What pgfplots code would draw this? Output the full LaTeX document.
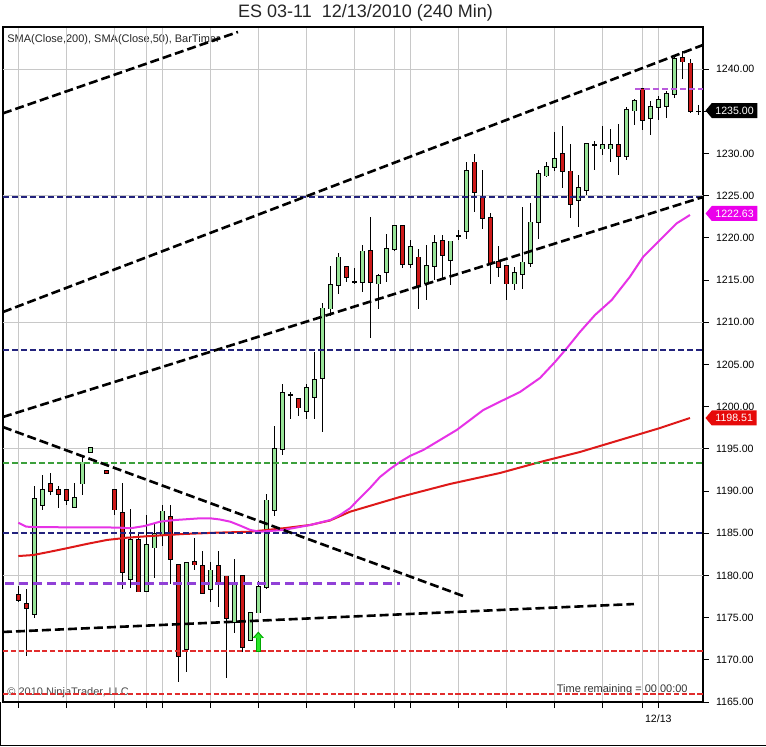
\documentclass[border=0pt]{standalone}
\usepackage{fontspec}
\setmainfont{Liberation Sans}
\usepackage{pgfplots}
\pgfplotsset{compat=1.18}
\usepackage{pgfplotstable}
\usetikzlibrary{shapes.symbols, arrows.meta}

\definecolor{upc}{RGB}{152,228,152}
\definecolor{dnc}{RGB}{205,25,25}
\definecolor{smaA}{RGB}{230,50,230}
\definecolor{smaB}{RGB}{222,25,25}
\definecolor{navyc}{RGB}{35,35,125}
\definecolor{dgreen}{RGB}{60,160,60}
\definecolor{dred}{RGB}{225,45,45}
\definecolor{violetc}{RGB}{145,65,215}
\definecolor{orchidc}{RGB}{185,90,220}
\definecolor{gridc}{RGB}{200,200,200}
\definecolor{tagmag}{RGB}{235,0,235}
\definecolor{tagred}{RGB}{230,10,10}

% up (green) candles and dojis: index, open, high, low, close
\pgfplotstableread{
x o h l c
2 1175.4 1190.6 1175.0 1189.1
3 1188.3 1191.9 1187.8 1190.1
7 1188.1 1191.0 1188.0 1189.2
8 1190.9 1194.2 1189.5 1193.4
9 1194.6 1195.1 1194.6 1195.1
14 1179.6 1187.9 1178.5 1184.2
16 1178.1 1187.2 1178.1 1183.6
17 1183.3 1186.1 1179.7 1184.9
18 1184.8 1188.4 1183.5 1187.6
21 1171.3 1181.6 1168.6 1181.5
24 1178.4 1181.6 1176.8 1180.6
27 1174.5 1182.0 1173.2 1179.1
29 1172.3 1175.7 1172.2 1175.6
30 1175.6 1179.3 1175.5 1178.6
31 1178.6 1189.7 1178.4 1188.9
32 1187.8 1197.7 1187.0 1195.0
33 1195.0 1202.7 1194.3 1201.6
34 1201.4 1201.7 1198.6 1201.4
36 1199.5 1202.7 1198.5 1202.2
37 1201.1 1206.5 1198.5 1203.2
38 1203.4 1212.3 1197.0 1211.65
39 1211.65 1216.7 1210.7 1214.4
40 1214.4 1218.2 1213.4 1217.7
42 1214.8 1216.4 1214.6 1214.8
43 1214.8 1219.2 1213.6 1218.4
45 1214.6 1215.8 1211.65 1215.5
46 1216.0 1220.5 1214.8 1218.7
47 1218.7 1221.4 1218.4 1221.4
49 1216.9 1219.8 1216.4 1218.9
51 1214.6 1219.2 1212.6 1216.7
52 1216.7 1220.3 1215.0 1219.4
54 1217.4 1219.7 1214.4 1219.6
55 1220.2 1220.9 1219.8 1220.2
56 1220.85 1229.0 1219.9 1227.9
62 1214.6 1216.6 1213.8 1215.9
63 1215.7 1223.7 1214.0 1217.1
64 1217.05 1224.2 1216.6 1221.85
65 1221.85 1228.05 1219.9 1227.6
66 1227.4 1229.0 1227.2 1228.4
67 1228.4 1232.6 1227.9 1229.4
70 1224.5 1227.45 1221.3 1225.9
71 1225.7 1231.3 1225.1 1231.1
72 1231.0 1231.5 1228.1 1231.0
73 1230.6 1233.3 1229.8 1231.0
74 1230.6 1232.9 1229.0 1231.0
76 1229.7 1235.5 1229.2 1235.2
77 1235.1 1236.5 1233.4 1236.2
79 1234.2 1236.2 1232.2 1235.5
80 1235.5 1236.8 1234.05 1236.4
81 1235.6 1237.4 1234.2 1237.1
82 1237.1 1241.5 1236.6 1241.2
85 1235.0 1235.8 1234.6 1235.0
}\upbars

% down (red) candles
\pgfplotstableread{
x o h l c
0 1177.7 1178.7 1176.9 1177.1
1 1176.6 1178.4 1170.5 1176.1
4 1190.9 1192.1 1189.5 1190.05
5 1190.1 1190.6 1188.0 1189.6
6 1190.1 1190.3 1188.3 1188.9
11 1192.4 1192.4 1192.1 1192.1
12 1190.1 1190.3 1187.2 1187.8
13 1187.4 1190.9 1178.4 1180.4
15 1184.2 1185.2 1178.1 1178.1
19 1186.9 1188.4 1179.0 1181.9
20 1181.3 1181.4 1167.4 1170.5
22 1181.6 1184.5 1180.6 1181.3
23 1181.1 1182.9 1177.8 1177.9
25 1181.1 1182.9 1176.3 1179.0
26 1179.9 1180.0 1167.8 1175.0
28 1179.9 1180.0 1170.9 1171.55
35 1200.9 1201.0 1198.9 1199.9
41 1216.6 1216.7 1214.8 1215.4
44 1218.45 1222.5 1208.1 1214.8
48 1221.4 1221.5 1216.4 1216.9
50 1217.7 1218.7 1211.65 1214.3
53 1219.6 1220.3 1215.0 1218.0
57 1228.95 1230.0 1223.1 1225.4
58 1224.9 1228.1 1221.1 1222.4
59 1222.4 1222.9 1214.6 1217.05
60 1217.2 1219.0 1215.4 1216.6
61 1216.7 1216.8 1212.6 1214.6
68 1230.0 1233.3 1225.9 1227.9
69 1227.9 1231.1 1222.4 1224.0
75 1231.0 1233.5 1227.45 1229.7
78 1237.7 1237.8 1232.8 1234.0
83 1241.35 1242.2 1238.9 1240.9
84 1240.7 1241.2 1234.85 1235.0
}\dnbars

\pgfplotsset{
  wick/.style={draw=none, mark=none, forget plot,
    error bars/.cd, y dir=both, y explicit, error mark=none,
    error bar style={draw=black, solid, line width=0.5pt}},
  bodyline/.style={draw=none, mark=none, forget plot,
    error bars/.cd, y dir=both, y explicit, error mark=none,
    error bar style={draw=black, solid, line width=2.5pt, line cap=butt}},
  bodyfill/.style={draw=none, mark=none, forget plot,
    error bars/.cd, y dir=both, y explicit, error mark=none,
    error bar style={draw=#1, solid, line width=1.6pt, line cap=butt}},
}

\begin{document}
\begin{tikzpicture}
\path[use as bounding box] (0,0) rectangle (383pt,373pt);

\node[font=\fontsize{9}{11}\selectfont, text=black!85] at (182.75pt,366.5pt) {ES 03-11\ \ 12/13/2010 (240 Min)};
\node[anchor=west, inner sep=0pt, font=\fontsize{5.5}{6.6}\selectfont, text=black!85] at (3.5pt,353pt) {SMA(Close,200), SMA(Close,50), BarTimer};
\node[anchor=west, inner sep=0pt, font=\fontsize{5.5}{6.6}\selectfont, text=black!70] at (3.5pt,26.5pt) {© 2010 NinjaTrader, LLC};
\node[anchor=east, inner sep=0pt, font=\fontsize{5.5}{6.6}\selectfont, text=black!80] at (344pt,28pt) {Time remaining = 00:00:00};

\begin{axis}[
  scale only axis, width=350pt, height=337.5pt,
  at={(1.5pt,22pt)}, anchor=south west,
  xmin=-1.9125, xmax=85.5875, ymin=1165, ymax=1245,
  axis line style={black, line width=0.8pt},
  tick align=outside,
  major tick length=3pt,
  tick style={black, line width=0.5pt},
  ytick={1165,1170,...,1240}, ytick pos=right, yticklabel pos=right,
  xtick={0,6,12,16,18,24,30,36,42,47,49,55,61,67,73,78,80},
  xticklabels={,,,,,,,,,,,,,,,,12/13},
  xtick pos=bottom,
  xmajorgrids, grid style={gridc, line width=0.5pt},
  extra y ticks={1180,1195,1210,1225,1240}, extra y tick labels={},
  extra y tick style={grid=major, major tick length=0pt},
  ticklabel style={font=\fontsize{5.3}{6}\selectfont},
  /pgf/number format/assume math mode=true,
  yticklabel style={/pgf/number format/.cd, fixed, fixed zerofill, precision=2, 1000 sep={}},
  scaled y ticks=false,
]
% wicks
\addplot[wick] table[x=x, y expr={(\thisrow{h}+\thisrow{l})/2}, y error expr={(\thisrow{h}-\thisrow{l})/2}] {\upbars};
\addplot[wick] table[x=x, y expr={(\thisrow{h}+\thisrow{l})/2}, y error expr={(\thisrow{h}-\thisrow{l})/2}] {\dnbars};
% body outlines
\addplot[bodyline] table[x=x, y expr={(\thisrow{o}+\thisrow{c})/2}, y error expr={abs(\thisrow{c}-\thisrow{o})/2+0.1}] {\upbars};
\addplot[bodyline] table[x=x, y expr={(\thisrow{o}+\thisrow{c})/2}, y error expr={abs(\thisrow{c}-\thisrow{o})/2+0.1}] {\dnbars};
% body fills
\addplot[bodyfill=upc] table[x=x, y expr={(\thisrow{o}+\thisrow{c})/2}, y error expr={abs(\thisrow{c}-\thisrow{o})/2}] {\upbars};
\addplot[bodyfill=dnc] table[x=x, y expr={(\thisrow{o}+\thisrow{c})/2}, y error expr={abs(\thisrow{c}-\thisrow{o})/2}] {\dnbars};

% SMA(Close,200)
\addplot[smaB, line width=1pt] coordinates {
(0,1182.30) (1.88,1182.42) (3.96,1182.81) (6.05,1183.22) (8.55,1183.73)
(11.05,1184.20) (13.55,1184.47) (16.46,1184.67) (20.63,1184.91) (24.8,1185.07)
(28.96,1185.18) (33.13,1185.59) (36.46,1185.98) (38.96,1186.51) (41.46,1187.55)
(47.71,1189.30) (53.96,1190.84) (60.21,1192.14) (65.21,1193.44) (70.21,1194.63)
(75.21,1196.05) (80.21,1197.47) (83.96,1198.66)};
% SMA(Close,50)
\addplot[smaA, line width=1pt] coordinates {
(0,1186.25) (1,1185.78) (2,1185.74) (5.2,1185.71) (10.2,1185.71) (12.7,1185.66)
(14,1185.59) (15.8,1185.86) (17.7,1186.37) (19.6,1186.57) (22.7,1186.77) (24,1186.77)
(25.2,1186.63) (26.5,1186.37) (27.7,1185.92) (29,1185.39) (30.2,1185.18) (33.1,1185.39)
(36.5,1185.98) (39,1186.57) (40.2,1187.16) (41.46,1187.96) (42.71,1189.18) (43.96,1190.36)
(45.21,1191.67) (46.46,1192.61) (47.71,1193.44) (48.96,1194.16) (50.63,1194.87)
(52.71,1196.05) (54.8,1197.24) (56.46,1198.42) (58.13,1199.61) (60.21,1200.59)
(62.71,1201.74) (65.21,1203.40) (67.09,1205.30) (68.59,1206.96) (70.21,1208.86)
(72.09,1210.87) (74.18,1212.65) (76.46,1215.41) (78.13,1217.78) (80.21,1219.76)
(82.30,1221.73) (83.96,1222.72)};

% horizontal dashed levels
\addplot[navyc, line width=1pt, dash pattern=on 3pt off 1.5pt] coordinates {(-1.9125,1224.85) (85.5875,1224.85)};
\addplot[navyc, line width=1pt, dash pattern=on 3pt off 1.5pt] coordinates {(-1.9125,1206.7) (85.5875,1206.7)};
\addplot[navyc, line width=1pt, dash pattern=on 3pt off 1.5pt] coordinates {(-1.9125,1185.0) (85.5875,1185.0)};
\addplot[dgreen, line width=1pt, dash pattern=on 3pt off 1.5pt] coordinates {(-1.9125,1193.35) (85.5875,1193.35)};
\addplot[dred, line width=1pt, dash pattern=on 2.7pt off 1.2pt] coordinates {(-1.9125,1171.1) (85.5875,1171.1)};
\addplot[dred, line width=1pt, dash pattern=on 2.7pt off 1.2pt] coordinates {(-1.9125,1165.95) (85.5875,1165.95)};
\addplot[violetc, line width=1.6pt, dash pattern=on 4.5pt off 2.5pt] coordinates {(-1.66,1179.0) (47.71,1179.0)};
\addplot[orchidc, line width=1.2pt, dash pattern=on 3pt off 1.5pt] coordinates {(77.09,1237.65) (85.5875,1237.65)};

% trend lines
\addplot[black, line width=1.3pt, dash pattern=on 4.5pt off 2pt] coordinates {(-1.9125,1234.77) (27.46,1244.41)};
\addplot[black, line width=1.3pt, dash pattern=on 4.5pt off 2pt] coordinates {(-1.9125,1211.22) (85.5875,1242.87)};
\addplot[black, line width=1.3pt, dash pattern=on 4.5pt off 2pt] coordinates {(-1.9125,1198.78) (85.5875,1224.85)};
\addplot[black, line width=1.3pt, dash pattern=on 4.5pt off 2pt] coordinates {(-1.9125,1197.59) (55.96,1177.44)};
\addplot[black, line width=1.3pt, dash pattern=on 4.5pt off 2pt] coordinates {(-1.9125,1173.30) (76.96,1176.61)};

% buy arrow
\addplot[draw=green!65!black, line width=2.6pt, -{Triangle[length=3.2pt,width=5.4pt]}] coordinates {(30,1170.9) (30,1173.35)};
\addplot[draw={rgb,255:red,40;green,230;blue,40}, line width=1.6pt, -{Triangle[length=2.5pt,width=4.2pt]}] coordinates {(30,1171.0) (30,1173.15)};

\coordinate (tagA) at (axis cs:85.5875,1235.1);
\coordinate (tagB) at (axis cs:85.5875,1222.9);
\coordinate (tagC) at (axis cs:85.5875,1198.66);
\end{axis}

\tikzset{tag/.style={signal, signal to=west, signal pointer angle=100, text=white,
  font=\fontsize{5.3}{6}\selectfont, inner xsep=1.8pt, inner ysep=1.2pt,
  minimum height=7.5pt, anchor=west, xshift=1pt}}
\node[tag, fill=black] at (tagA) {1235.00};
\node[tag, fill=tagmag] at (tagB) {1222.63};
\node[tag, fill=tagred] at (tagC) {1198.51};

\draw[black, line width=0.6pt] (0.3pt,0) -- (0.3pt,22pt);
\draw[black, line width=0.6pt] (0,0.3pt) -- (383pt,0.3pt);
\end{tikzpicture}
\end{document}
